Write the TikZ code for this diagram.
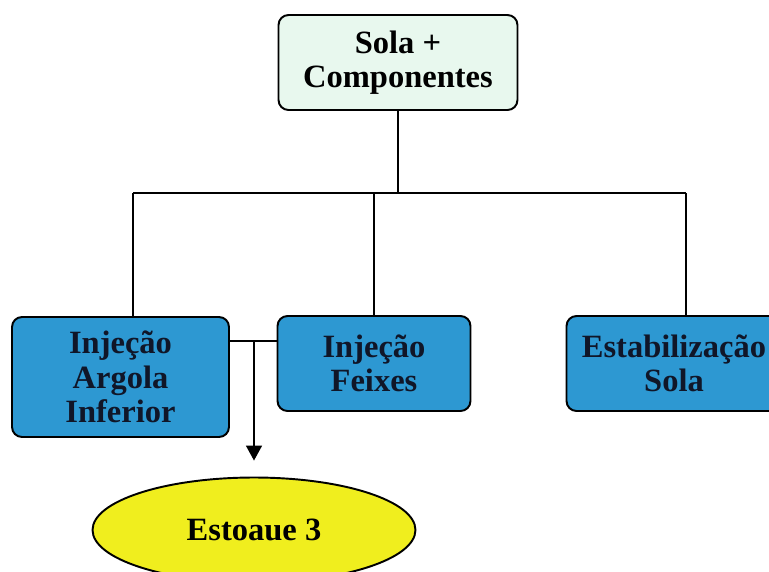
\documentclass[tikz,border=0pt]{standalone}
\usepackage{fontspec}
\setmainfont{Liberation Serif}
\usetikzlibrary{shapes.geometric,arrows.meta}
\definecolor{mint}{RGB}{232,248,238}
\definecolor{caixa}{RGB}{45,152,210}
\definecolor{amarelo}{RGB}{240,238,30}
\definecolor{tinta}{RGB}{16,22,40}
\begin{document}
\begin{tikzpicture}[x=0.02cm,y=-0.02cm]
		\tikzset{etapa/.style = {shape=rectangle,draw,line width=1.1pt,rounded corners=0.2cm,align=center,inner sep=0pt,font=\fontsize{18.5}{19.5}\selectfont\bfseries}}
		\tikzset{liga/.style = {draw,line width=0.9pt}}
		\useasboundingbox (0,0) rectangle (769,572);
		\clip (0,0) rectangle (769,572);
		\node[etapa,fill=mint,minimum width=4.78cm,minimum height=1.9cm] (sola) at (398,62.5) {Sola +\\Componentes};
		\node[etapa,fill=caixa,text=tinta,minimum width=4.34cm,minimum height=2.4cm] (argola) at (120.5,377) {Injeção\\Argola\\Inferior};
		\node[etapa,fill=caixa,text=tinta,minimum width=3.86cm,minimum height=1.9cm] (feixes) at (374,363.5) {Injeção\\Feixes};
		\node[etapa,fill=caixa,text=tinta,minimum width=4.3cm,minimum height=1.9cm] (estab) at (674,363.5) {Estabilização\\Sola};
		\node[shape=ellipse,draw,line width=1.1pt,fill=amarelo,minimum width=6.46cm,minimum height=2.1cm,font=\fontsize{18.5}{19.5}\selectfont\bfseries] (estoque) at (254,530) {Estoaue 3};
		\coordinate (barra) at (398,193);
		\coordinate (esq) at (133,193);
		\coordinate (dir) at (686,193);
		\coordinate (junta) at (254,341);
		\path[liga] (sola.south) -- (sola.south |- barra);
		\path[liga] (esq) -- (dir);
		\path[liga] (esq) -- (esq |- argola.north);
		\path[liga] (feixes.north) -- (feixes.north |- barra);
		\path[liga] (dir) -- (dir |- estab.north);
		\path[liga] (argola.east |- junta) -- (feixes.west |- junta);
		\path[liga,-{Triangle[width=0.32cm,length=0.3cm]},shorten >=0.32cm] (junta) -- (estoque.north);
	\end{tikzpicture}
\end{document}
